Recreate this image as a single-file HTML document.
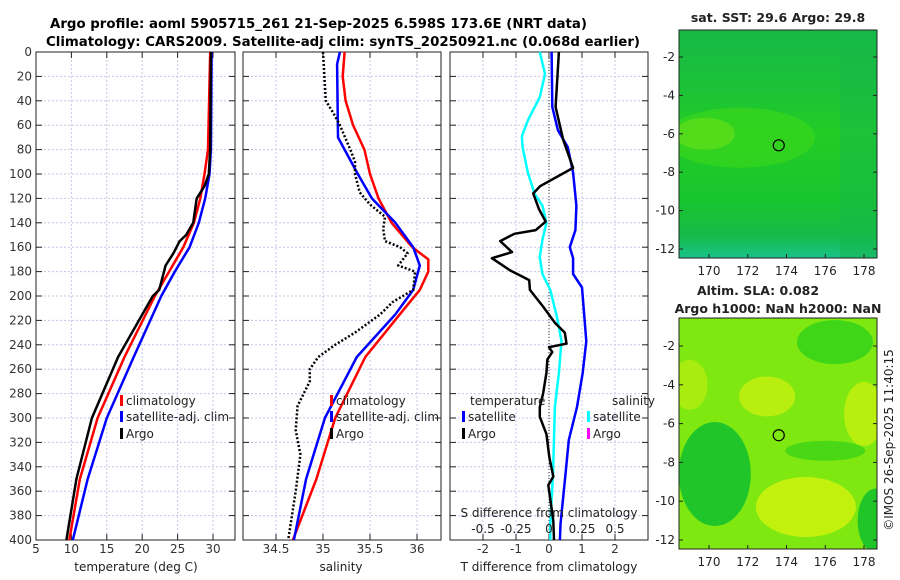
<!DOCTYPE html>
<html><head><meta charset="utf-8"><style>
body{margin:0;background:#fff}
svg{display:block;font-family:"DejaVu Sans","Liberation Sans",sans-serif}
</style></head><body>
<svg id="c" width="900" height="580" viewBox="0 0 900 580">
<defs>
<linearGradient id="sstg" x1="0" y1="0" x2="0" y2="1">
<stop offset="0" stop-color="#16ba45"/><stop offset="0.25" stop-color="#1bc238"/><stop offset="0.45" stop-color="#22cc25"/><stop offset="0.75" stop-color="#18c52e"/><stop offset="0.9" stop-color="#16bb48"/><stop offset="1" stop-color="#19c28a"/>
</linearGradient>
</defs>
<rect width="900" height="580" fill="#fff"/>
<text x="50" y="28" font-size="13" font-weight="bold" textLength="537" lengthAdjust="spacingAndGlyphs">Argo profile: aoml 5905715_261 21-Sep-2025 6.598S 173.6E (NRT data)</text>
<text x="46" y="46" font-size="13" font-weight="bold" textLength="594" lengthAdjust="spacingAndGlyphs">Climatology: CARS2009. Satellite-adj clim: synTS_20250921.nc (0.068d earlier)</text>
<g id="maps"></g>
<g id="p1"></g><g id="p2"></g><g id="p3"></g>
<text transform="translate(893,440) rotate(-90)" font-size="12" text-anchor="middle" fill="#222">©IMOS 26-Sep-2025 11:40:15</text>
</svg>
<script>
const depthT=[0,80,100,110,120,140,150,155,165,175,195,200,250,300,350,400];
const argoT=[29.7,29.6,29.4,28.8,27.7,27.2,26.2,25.3,24.4,23.3,22.4,21.5,16.6,12.9,10.7,9.3];
const depthC=[0,80,100,120,140,160,180,200,250,300,350,400];
const climT=[29.6,29.3,28.8,28.2,27.3,25.8,23.8,21.8,17.5,13.7,11.2,9.7];
const satT=[29.8,29.7,29.5,28.9,28.0,26.7,24.6,22.7,18.8,15.0,12.3,10.2];
const depthSc=[0,20,40,60,80,100,120,140,160,170,180,195,210,250,300,350,400];
const climS=[35.23,35.21,35.24,35.32,35.44,35.5,35.59,35.73,35.95,36.12,36.12,36.03,35.87,35.45,35.13,34.93,34.68];
const depthSs=[0,10,70,80,100,120,140,160,175,195,215,250,300,350,400];
const satS=[35.18,35.15,35.16,35.23,35.37,35.52,35.77,35.96,36.03,35.96,35.77,35.36,35.02,34.82,34.69];
const depthSa=[0,40,50,60,80,90,100,115,125,135,145,155,160,165,175,180,195,205,215,230,240,250,260,270,290,310,330,360,400];
const argoS=[35.0,35.03,35.11,35.18,35.29,35.34,35.34,35.39,35.5,35.66,35.64,35.66,35.82,35.9,35.8,35.98,35.96,35.74,35.61,35.34,35.13,34.95,34.86,34.86,34.73,34.71,34.76,34.71,34.63];
const depthDT=[0,45,72,95,110,116,129,139,146,149,155,164,169,179,187,195,209,222,230,239,242,246,252,263,280,291,299,313,332,348,355,384,400];
const argoDT=[0.3,0.2,0.43,0.73,-0.27,-0.48,-0.3,-0.1,-0.4,-1.05,-1.48,-1.12,-1.73,-1.18,-0.6,-0.58,-0.17,0.18,0.48,0.53,0.0,0.1,-0.05,-0.08,-0.18,-0.28,-0.28,-0.08,0.01,0.13,-0.02,0.13,0.15];
const depthSD=[0,45,64,78,99,126,146,160,169,182,193,237,263,291,318,346,387,400];
const satDT=[0.08,0.1,0.27,0.57,0.73,0.83,0.8,0.63,0.73,0.73,1.0,1.13,1.02,0.85,0.6,0.5,0.35,0.33];
const depthDS=[0,18,37,56,69,78,99,116,126,140,154,168,182,195,217,237,263,291,346,387,400];
const satDS=[-0.07,-0.03,-0.07,-0.16,-0.205,-0.2,-0.16,-0.11,-0.05,-0.02,-0.05,-0.07,-0.05,0.01,0.06,0.095,0.075,0.045,0.03,0.01,0.01];
const depthTicks=[0,20,40,60,80,100,120,140,160,180,200,220,240,260,280,300,320,340,360,380,400];
const tTicks=[5,10,15,20,25,30];
const sTicks=[34.5,35,35.5,36];
const dTicks=[-2,-1,0,1,2];
const dsTicks=[-0.5,-0.25,0,0.25,0.5];
const lonTicks=[170,172,174,176,178];
const latTicks=[-2,-4,-6,-8,-10,-12];

const NS='http://www.w3.org/2000/svg';
function mk(p,tag,at){const e=document.createElementNS(NS,tag);for(const k in at)e.setAttribute(k,at[k]);p.appendChild(e);return e;}
const Y0=52,Y1=540;
const yD=d=>Y0+d/400*(Y1-Y0);
function lin(a,b,p,q){return v=>p+(v-a)/(b-a)*(q-p);}
function panel(g,x0,x1,xs,ticks,fmt,showY){
  for(const t of ticks){const x=xs(t);const l=mk(g,'line',{x1:x,x2:x,y1:Y0,y2:Y1,stroke:'#c4c8e8','stroke-dasharray':'2,2','stroke-width':1});
    
    mk(g,'line',{x1:x,x2:x,y1:Y1,y2:Y1-6,stroke:'#222'});mk(g,'line',{x1:x,x2:x,y1:Y0,y2:Y0+6,stroke:'#222'});
    if(fmt){const tx=mk(g,'text',{x:x,y:553,'font-size':12,'text-anchor':'middle',fill:'#333'});tx.textContent=fmt(t);
    }}
  for(const d of depthTicks){const y=yD(d);const l=mk(g,'line',{x1:x0,x2:x1,y1:y,y2:y,stroke:'#c4c8e8','stroke-dasharray':'2,2'});
    
    mk(g,'line',{x1:x0,x2:x0+6,y1:y,y2:y,stroke:'#222'});mk(g,'line',{x1:x1,x2:x1-6,y1:y,y2:y,stroke:'#222'});
    if(showY){const t=mk(g,'text',{x:x0-4,y:y+4,'font-size':12,'text-anchor':'end',fill:'#333'});t.textContent=d;
    }}
  const r=mk(g,'rect',{x:x0,y:Y0,width:x1-x0,height:Y1-Y0,fill:'none',stroke:'#222','stroke-width':1});
  
}
function line(g,xs,vals,deps,col,w,name,dash){
  const pts=vals.map((v,i)=>xs(v).toFixed(1)+','+yD(deps[i]).toFixed(1)).join(' ');
  const a={points:pts,fill:'none',stroke:col,'stroke-width':w,'stroke-linejoin':'round'};if(dash)a['stroke-dasharray']=dash;
  const p=mk(g,'polyline',a);
  
  
}
function txt(g,x,y,s,t,name,anchor){const e=mk(g,'text',{x:x,y:y,'font-size':s,'text-anchor':anchor||'start',fill:'#222'});e.textContent=t;
  return e;}
function leg(g,x,y,col,label){mk(g,'rect',{x:x,y:y-10,width:3,height:11,fill:col});
  txt(g,x+6,y,12,label,'legend-entry');}

// panel 1
const g1=document.getElementById('p1');
const xT=lin(5,30,36,213);
panel(g1,36,235,xT,tTicks,t=>t,true);
line(g1,xT,climT,depthC,'#ff0000',2.5,'climatology-temperature-line');
line(g1,xT,satT,depthC,'#0000ff',2.5,'satellite-temperature-line');
line(g1,xT,argoT,depthT,'#000',2.5,'argo-temperature-line');
txt(g1,136,571,12,'temperature (deg C)','x-axis-title','middle');
leg(g1,120,405,'#ff0000','climatology');leg(g1,120,421,'#0000ff','satellite-adj. clim');leg(g1,120,438,'#000','Argo');

// panel 2
const g2=document.getElementById('p2');
const xS=lin(35,36,323,417);
panel(g2,243,441,xS,sTicks,t=>t,false);
line(g2,xS,climS,depthSc,'#ff0000',2.5,'climatology-salinity-line');
line(g2,xS,satS,depthSs,'#0000ff',2.5,'satellite-salinity-line');
line(g2,xS,argoS,depthSa,'#000',2.5,'argo-salinity-line','2,2');
txt(g2,341,571,12,'salinity','x-axis-title','middle');
leg(g2,330,405,'#ff0000','climatology');leg(g2,330,421,'#0000ff','satellite-adj. clim');leg(g2,330,438,'#000','Argo');

// panel 3
const g3=document.getElementById('p3');
const xD=lin(0,1,549,582);
const xDS=v=>549+v*132;
panel(g3,450,648,xD,dTicks,t=>t,false);
mk(g3,'line',{x1:549,x2:549,y1:Y0,y2:Y1,stroke:'#333','stroke-dasharray':'1,2'});
line(g3,xD,satDT,depthSD,'#0000ff',2.5,'satellite-temperature-difference-line');
line(g3,xDS,satDS,depthDS,'#00ffff',2.5,'satellite-salinity-difference-line');
line(g3,xD,argoDT,depthDT,'#000',2.5,'argo-temperature-difference-line');
txt(g3,549,571,12,'T difference from climatology','x-axis-title','middle');
txt(g3,549,517,12,'S difference from climatology','s-axis-title','middle');
for(const t of dsTicks){txt(g3,xDS(t),533,12,String(t),'s-tick-label','middle');}
txt(g3,470,405,12,'temperature','legend-title');txt(g3,612,405,12,'salinity','legend-title');
leg(g3,462,421,'#0000ff','satellite');leg(g3,462,438,'#000','Argo');
leg(g3,587,421,'#00ffff','satellite');leg(g3,587,438,'#ff00ff','Argo');

// maps
const gm=document.getElementById('maps');
const lx=lin(170,178,709,864);
function map(y0,y1,latY,type){
  const id='cl'+type;const cp=mk(gm,'clipPath',{id:id});mk(cp,'rect',{x:679,y:y0,width:198,height:y1-y0});
  const g=mk(gm,'g',{'clip-path':'url(#'+id+')'});
  
  if(type==='sst'){
    mk(g,'rect',{x:679,y:y0,width:198,height:y1-y0,fill:'url(#sstg)'});
    mk(g,'ellipse',{cx:740,cy:latY(-6.2),rx:75,ry:30,fill:'#36d41e',opacity:0.8});
    mk(g,'ellipse',{cx:705,cy:latY(-6.0),rx:30,ry:16,fill:'#5ede1a',opacity:0.8});
    mk(g,'rect',{x:840,y:y0,width:37,height:y1-y0,fill:'#16b84a',opacity:0.5});
  } else {
    mk(g,'rect',{x:679,y:y0,width:198,height:y1-y0,fill:'#7ee810'});
    mk(g,'ellipse',{cx:lx(173),cy:latY(-4.6),rx:28,ry:20,fill:'#b8ef0f'});
    mk(g,'ellipse',{cx:lx(178),cy:latY(-5.5),rx:20,ry:32,fill:'#b8ef0f'});
    mk(g,'ellipse',{cx:lx(169),cy:latY(-4),rx:18,ry:25,fill:'#a8ec10'});
    mk(g,'ellipse',{cx:lx(175),cy:latY(-10.3),rx:50,ry:30,fill:'#c2f10e'});
    mk(g,'ellipse',{cx:lx(176.5),cy:latY(-1.8),rx:38,ry:22,fill:'#3ed616'});
    mk(g,'ellipse',{cx:lx(170.3),cy:latY(-8.6),rx:36,ry:52,fill:'#20c52a'});
    mk(g,'ellipse',{cx:lx(176),cy:latY(-7.4),rx:40,ry:10,fill:'#4ad816'});
    mk(g,'ellipse',{cx:lx(178.6),cy:latY(-11),rx:18,ry:32,fill:'#20c628'});
  }
  const c=mk(gm,'circle',{cx:lx(173.6),cy:latY(-6.6),r:5.5,fill:'none',stroke:'#000','stroke-width':1.2});
  
  mk(gm,'rect',{x:679,y:y0,width:198,height:y1-y0,fill:'none',stroke:'#222'});
  for(const t of lonTicks){const x=lx(t);mk(gm,'line',{x1:x,x2:x,y1:y1,y2:y1-4,stroke:'#222'});
    txt(gm,x,y1+17,12,t,'lon-tick-label','middle');}
  for(const t of latTicks){const y=latY(t);mk(gm,'line',{x1:679,x2:683,y1:y,y2:y,stroke:'#222'});mk(gm,'line',{x1:877,x2:873,y1:y,y2:y,stroke:'#222'});
    txt(gm,675,y+4,12,t,'lat-tick-label','end');}
}
map(30,258,lin(-2,-12,57,249),'sst');
map(318,549,lin(-2,-12,346,540),'sla');
txt(gm,778,22,12.5,'sat. SST: 29.6 Argo: 29.8','sst-map-title','middle').setAttribute('font-weight','bold');
txt(gm,758,295,12.5,'Altim. SLA: 0.082','sla-map-title','middle').setAttribute('font-weight','bold');
txt(gm,778,313,12.5,'Argo h1000: NaN h2000: NaN','sla-map-subtitle','middle').setAttribute('font-weight','bold');
</script>
</body></html>
